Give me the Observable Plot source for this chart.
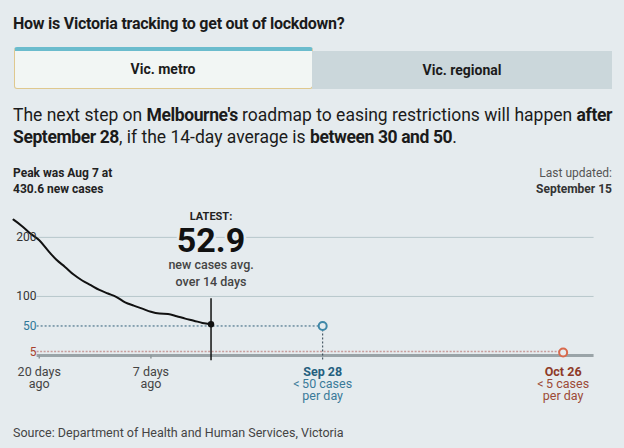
<!DOCTYPE html>
<html>
<head>
<meta charset="utf-8">
<script src="https://cdn.jsdelivr.net/npm/d3@7"></script>
<script src="https://cdn.jsdelivr.net/npm/@observablehq/plot@0.6"></script>
<style>
  html, body { margin: 0; padding: 0; }
  body { width: 624px; height: 448px; background: #e5ebee; font-family: Roboto, "Noto Sans", sans-serif; color: #1b1b1b; position: relative; overflow: hidden; }
  .abs { position: absolute; }
  #title { left: 13px; top: 14px; font-size: 16px; font-weight: 700; letter-spacing: -0.25px; white-space: nowrap; }
  #tab1 { left: 13.5px; top: 46.5px; width: 297px; height: 37.5px; background: #f2f6f4; border: 1.5px solid #dfc88e; border-top: 4px solid #6bbccd; border-radius: 3px; text-align: center; line-height: 37px; font-size: 14px; font-weight: 700; }
  #tab2 { left: 312px; top: 51px; width: 300px; height: 38px; background: #cbd7db; text-align: center; line-height: 38px; font-size: 14px; font-weight: 700; }
  #para { left: 13px; top: 104px; width: 610px; font-size: 17.5px; line-height: 22px; letter-spacing: 0px; }
  #para b { font-weight: 700; letter-spacing: -0.4px; }
  #peak { left: 13px; top: 165px; font-size: 12px; line-height: 16px; font-weight: 700; color: #222; }
  #upd { right: 12px; top: 165px; font-size: 12px; line-height: 16px; text-align: right; color: #555; }
  #upd b { color: #333; }
  #chart { left: 0; top: 200px; }
  #source { left: 13px; top: 425px; font-size: 12.5px; color: #444; }
</style>
</head>
<body>
<div id="title" class="abs">How is Victoria tracking to get out of lockdown?</div>
<div id="tab1" class="abs">Vic. metro</div>
<div id="tab2" class="abs">Vic. regional</div>
<div id="para" class="abs">The next step on <b>Melbourne's</b> roadmap to easing restrictions will happen <b>after September 28</b>, if the 14-day average is <b>between 30 and 50</b>.</div>
<div id="peak" class="abs">Peak was Aug 7 at<br>430.6 new cases</div>
<div id="upd" class="abs">Last updated:<br><b>September 15</b></div>
<div id="chart" class="abs"></div>
<div id="source" class="abs">Source: Department of Health and Human Services, Victoria</div>
<script>
// ---- data ----
const days = ["2020-08-23","2020-08-24","2020-08-25","2020-08-26","2020-08-27","2020-08-28","2020-08-29","2020-08-30",
  "2020-08-31","2020-09-01","2020-09-02","2020-09-03","2020-09-04","2020-09-05","2020-09-06","2020-09-07",
  "2020-09-08","2020-09-09","2020-09-10","2020-09-11","2020-09-12","2020-09-13","2020-09-14","2020-09-15"];
const avg14 = [230, 219, 206, 195, 178, 162, 150, 137, 127, 119, 111, 105, 99, 90, 84.4, 79.3, 74, 71, 70.3, 66.6, 62.4, 59, 55, 52.9];
const gridValues = [200, 100];
const yLabels = ["200", "100", "50", "5"];
const yLabelValues = [200, 100, 50, 5];
const pastTickDates = ["2020-08-26", "2020-09-08"];
const pastTickLabels = ["20 days\nago", "7 days\nago"];
const targetDates = ["2020-09-28", "2020-10-26"];
const targetValues = [50, 5];
const targetTitles = ["Sep 28", "Oct 26"];
const targetNotes = ["<\u200950 cases\nper day", "<\u20095 cases\nper day"];
const latestValue = 52.9;
const domainX = ["2020-08-23", "2020-10-30"];

// ---- build ----
const D = s => new Date(s + "T00:00:00Z");
const series = days.map((d, i) => ({date: D(d), value: avg14[i]}));
const latest = series[series.length - 1];
const gridStart = new Date(D("2020-08-26").getTime() - 0.25 * 864e5);
const gridEnd = new Date(D("2020-10-29").getTime() + 0.6 * 864e5);
const bg = "#e5ebee";
const blue = "#245f7e", red = "#8e3a28";
const labelColors = ["#333", "#333", "#2f7898", "#a8412c"];

const chart = Plot.plot({
  width: 624, height: 210,
  marginLeft: 13, marginRight: 27, marginTop: 7, marginBottom: 55,
  style: {background: "transparent", fontFamily: "Roboto, sans-serif", overflow: "visible"},
  x: {type: "utc", domain: domainX.map(D), axis: null},
  y: {domain: [0, 250.6], axis: null},
  marks: [
    Plot.ruleY(gridValues, {x1: gridStart, x2: gridEnd, stroke: "#b7c7cb", strokeWidth: 1}),
    Plot.ruleY([0], {x1: gridStart, x2: gridEnd, stroke: "#9aa4a8", strokeWidth: 3}),
    Plot.ruleY([targetValues[1]], {x1: gridStart, x2: D(targetDates[1]), dy: -1, stroke: "#c79c9b", strokeWidth: 1.5, strokeDasharray: "2,1.5"}),
    Plot.ruleY([targetValues[0]], {x1: gridStart, x2: D(targetDates[0]), stroke: "#2e5d78", strokeWidth: 1, strokeDasharray: "2,2"}),
    Plot.ruleX([D(targetDates[0])], {y1: targetValues[0], y2: -9, stroke: "#2b3e4c", strokeWidth: 1, strokeDasharray: "2,2"}),
    Plot.ruleX([D(targetDates[1])], {y1: targetValues[1], y2: -4, stroke: "#8e3a28", strokeWidth: 1, strokeDasharray: "1.5,1.5"}),
    Plot.ruleX(pastTickDates.map(D), {y1: 0, y2: -6, stroke: "#8f999c", strokeWidth: 1.5}),
    Plot.ruleX([latest.date], {y1: -9, y2: 96, stroke: "#111", strokeWidth: 1.5}),
    Plot.line(series, {x: "date", y: "value", stroke: "#111", strokeWidth: 2, curve: "monotone-x"}),
    Plot.dot([latest], {x: "date", y: "value", r: 3.2, fill: "#111"}),
    Plot.dot([0, 1], {x: i => D(targetDates[i]), y: i => targetValues[i], r: 4, fill: bg, stroke: i => ["#3f88a8", "#d9694c"][i], strokeWidth: 2}),
    // y labels
    Plot.text(yLabels, {x: domainX.map(D)[0], y: (d, i) => yLabelValues[i], text: d => d, dx: 23, textAnchor: "end", fontSize: 12, fill: (d, i) => labelColors[i]}),
    // latest annotation
    Plot.text([latest], {x: "date", y: "value", text: () => "LATEST:", dy: -107.5, fontSize: 11, fontWeight: 700, fill: "#222", stroke: bg, strokeWidth: 4}),
    Plot.text([latest], {x: "date", y: "value", text: d => d3.format(".1f")(latestValue), dy: -83, fontSize: 34, fontWeight: 700, fill: "#111", stroke: bg, strokeWidth: 5, letterSpacing: -1}),
    Plot.text([latest], {x: "date", y: "value", text: () => "new cases avg.\nover 14 days", dy: -52, lineHeight: 1.3, fontSize: 12.5, fontWeight: 500, fill: "#444", stroke: bg, strokeWidth: 4}),
    // x labels
    Plot.text(pastTickLabels, {x: (d, i) => D(pastTickDates[i]), y: 0, text: d => d, dy: 11.5, lineAnchor: "top", lineHeight: 1, fontSize: 12.5, fill: "#444"}),
    Plot.text(targetTitles, {x: (d, i) => D(targetDates[i]), y: 0, text: d => d, dy: 11.5, lineAnchor: "top", fontSize: 12.5, fontWeight: 700, fill: (d, i) => [blue, red][i]}),
    Plot.text(targetNotes, {x: (d, i) => D(targetDates[i]), y: 0, text: d => d, dy: 23.5, lineAnchor: "top", lineHeight: 1, fontSize: 12.5, fill: (d, i) => ["#3a7a99", "#9c4a36"][i]})
  ]
});
document.getElementById("chart").appendChild(chart);
</script>
</body>
</html>
